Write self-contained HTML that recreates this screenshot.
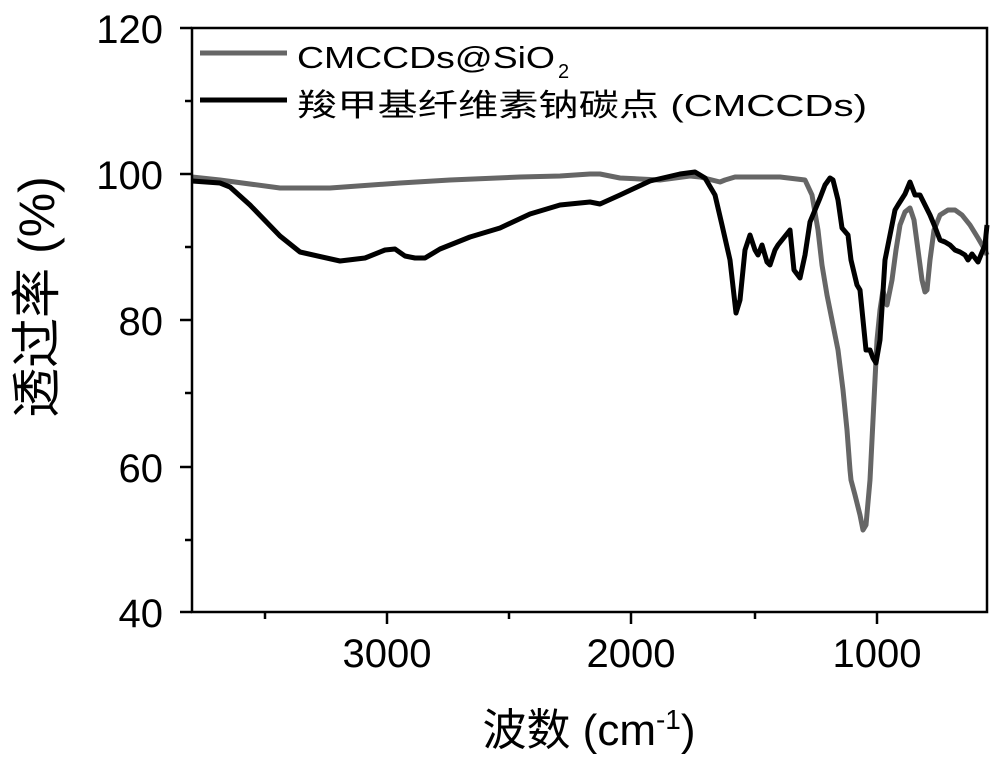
<!DOCTYPE html>
<html><head><meta charset="utf-8"><style>
html,body{margin:0;padding:0;background:#fff;}
svg{display:block;}
text{font-family:"Liberation Sans","Noto Sans CJK SC",sans-serif;fill:#000;}
</style></head><body>
<svg width="1000" height="767" viewBox="0 0 1000 767" xmlns="http://www.w3.org/2000/svg">
<rect width="1000" height="767" fill="#fff"/>
<polyline fill="none" stroke="#666" stroke-width="5" stroke-linejoin="round" points="192,177 220,180 280,188 330,188 400,183 450,180 520,177 560,176 590,174 600,174 620,178 660,180 690,176 700,177 720,182 725,180 735,177 780,177 805,180 812,195 818,230 822,265 827,295 832,320 838,350 843,390 847,430 850,470 851,480 855,495 860,515 863,530 866,525 870,480 874,400 877,340 880,310 883,290 885,300 887,305 892,280 896,250 900,225 905,212 910,208 914,220 918,250 922,280 925,292 927,290 930,260 934,230 940,215 948,210 955,210 962,215 970,225 978,238 985,250 987,255"/>
<polyline fill="none" stroke="#000" stroke-width="5" stroke-linejoin="round" points="192,181 220,183 230,187 250,205 280,236 300,252 340,261 365,258 385,250 395,249 405,256 415,258 425,258 440,249 470,237 500,228 530,214 560,205 590,202 600,204 620,195 650,181 680,174 695,172 705,178 715,195 722,225 730,260 736,313 740,300 745,250 750,235 755,250 758,255 762,245 767,262 770,265 775,250 778,245 782,240 790,230 794,270 800,278 805,255 810,222 815,210 820,198 825,185 830,178 833,180 838,200 842,228 848,235 851,260 857,285 860,290 862,310 866,350 870,350 873,358 876,363 880,340 885,260 890,235 895,210 898,205 905,194 910,182 915,195 920,195 925,205 930,215 935,227 940,240 945,242 950,245 955,250 960,252 965,255 968,260 972,254 978,262 985,245 987,225"/>
<rect x="192" y="28" width="795" height="584" fill="none" stroke="#000" stroke-width="2.5"/>
<g stroke="#000" stroke-width="2.5">
<line x1="180" y1="28" x2="192" y2="28"/><line x1="180" y1="174" x2="192" y2="174"/>
<line x1="180" y1="320" x2="192" y2="320"/><line x1="180" y1="467" x2="192" y2="467"/>
<line x1="180" y1="612" x2="192" y2="612"/>
<line x1="185" y1="101" x2="192" y2="101"/><line x1="185" y1="247" x2="192" y2="247"/>
<line x1="185" y1="393" x2="192" y2="393"/><line x1="185" y1="540" x2="192" y2="540"/>
<line x1="387" y1="612" x2="387" y2="624"/><line x1="631" y1="612" x2="631" y2="624"/><line x1="877" y1="612" x2="877" y2="624"/>
<line x1="265" y1="612" x2="265" y2="619"/><line x1="509" y1="612" x2="509" y2="619"/><line x1="755" y1="612" x2="755" y2="619"/>
</g>
<g font-size="40" text-anchor="end">
<text x="163" y="43">120</text><text x="163" y="189">100</text>
<text x="163" y="335">80</text><text x="163" y="482">60</text><text x="163" y="627">40</text>
</g>
<g font-size="40" text-anchor="middle">
<text x="387" y="667">3000</text><text x="631" y="667">2000</text><text x="877" y="667">1000</text>
</g>
<text x="589" y="745" font-size="44" text-anchor="middle">波数 (cm<tspan font-size="28" dy="-16">-1</tspan><tspan dy="16">)</tspan></text>
<text transform="translate(54,297) rotate(-90)" font-size="50" text-anchor="middle">透过率 (%)</text>
<line x1="200" y1="53" x2="287" y2="53" stroke="#666" stroke-width="5"/>
<line x1="200" y1="100" x2="287" y2="100" stroke="#000" stroke-width="5"/>
<text x="297" y="68" font-size="31" textLength="258" lengthAdjust="spacingAndGlyphs">CMCCDs@SiO</text>
<text x="558" y="78" font-size="20">2</text>
<text x="297" y="116" font-size="31" textLength="570" lengthAdjust="spacingAndGlyphs">羧甲基纤维素钠碳点 (CMCCDs)</text>
</svg>
</body></html>
